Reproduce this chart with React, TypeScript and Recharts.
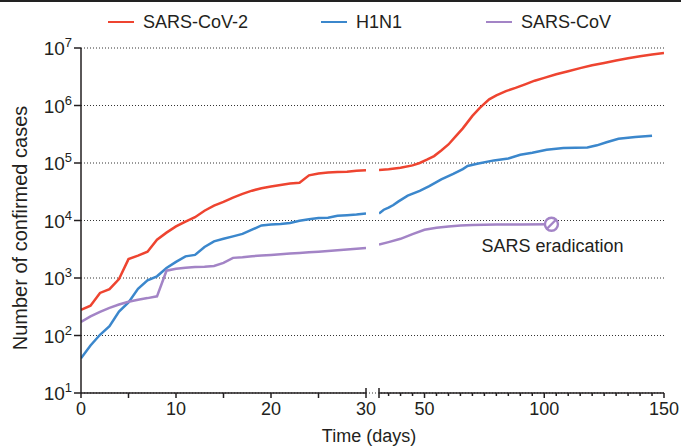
import React from "react";
import { LineChart, Line, XAxis, YAxis, CartesianGrid, Label } from "recharts";

const RED = "#ee4430";
const BLUE = "#3b87cc";
const PURPLE = "#a384c6";
const INK = "#231f20";

const seriesNames = ["SARS-CoV-2", "H1N1", "SARS-CoV"];
const seriesColors = [RED, BLUE, PURPLE];

// first 30 days, one reading per day
const earlyDays = [0, 1, 2, 3, 4, 5, 6, 7, 8, 9, 10, 11, 12, 13, 14, 15, 16, 17, 18, 19, 20, 21, 22, 23, 24, 25, 26, 27, 28, 29, 30];
const earlySars2 = [280, 330, 550, 640, 960, 2130, 2450, 2870, 4650, 6150, 7900, 9600, 11400, 14800, 18100, 21000, 25000, 29000, 33000, 36500, 39000, 41500, 44000, 45500, 61000, 65800, 68600, 69800, 70500, 73500, 74500];
const earlyH1n1 = [40, 67, 103, 145, 260, 375, 650, 910, 1070, 1490, 1910, 2380, 2520, 3470, 4340, 4800, 5300, 5860, 6930, 8220, 8540, 8700, 9060, 9930, 10500, 11000, 11200, 12100, 12400, 12700, 13200];
const earlySars = [172, 215, 258, 302, 346, 387, 420, 447, 480, 1340, 1450, 1510, 1550, 1570, 1620, 1830, 2240, 2300, 2400, 2450, 2520, 2600, 2660, 2720, 2800, 2870, 2950, 3030, 3120, 3220, 3330];

// after the axis break, each series has its own reading days
const lateSars2Days = [31, 35, 40, 45, 48, 51, 54, 57, 60, 63, 66, 70, 73, 77, 80, 84, 88, 92, 96, 100, 105, 110, 115, 120, 125, 130, 135, 140, 145, 150];
const lateSars2 = [75500, 78000, 82500, 91000, 100000, 114000, 132000, 165000, 210000, 290000, 400000, 660000, 900000, 1280000, 1500000, 1780000, 2020000, 2330000, 2700000, 3020000, 3500000, 3950000, 4470000, 5000000, 5500000, 6050000, 6650000, 7200000, 7700000, 8200000];
const lateH1n1Days = [31, 33, 35, 37, 39, 43, 48, 52, 57, 62, 66, 68, 72, 79, 85, 90, 95, 101, 108, 113, 118, 122, 126, 131, 138, 145];
const lateH1n1 = [13200, 15400, 16800, 18600, 21300, 27000, 32700, 39500, 52000, 64500, 78500, 89000, 97000, 111000, 120000, 139000, 151000, 170000, 182000, 184000, 186000, 203000, 230000, 263000, 282000, 298000];
const lateSarsDays = [31, 35, 40, 45, 50, 55, 60, 65, 70, 80, 90, 103];
const lateSars = [3800, 4200, 4800, 5800, 6900, 7500, 7900, 8150, 8350, 8500, 8550, 8600];

const yTicks = [10, 100, 1000, 10000, 100000, 1000000, 10000000];
const earlyTicks = [0, 5, 10, 15, 20, 25, 30];
const earlyLabels = [0, 10, 20, 30];
const lateTicks = [31, 35, 40, 45, 50, 55, 60, 65, 70, 75, 80, 85, 90, 95, 100, 105, 110, 115, 120, 125, 130, 135, 140, 145, 150];
const lateLabels = [50, 100, 150];

const earlyRows = earlyDays.map((day, i) => ({
  day,
  sars2: earlySars2[i],
  h1n1: earlyH1n1[i],
  sars: earlySars[i],
}));
const toRows = (days: number[], vals: number[]) => days.map((day, i) => ({ day, v: vals[i] }));

const PowerTick = (props: any) => {
  const { x, y, payload } = props;
  const exp = Math.round(Math.log10(payload.value));
  return (
    <text x={x} y={y + 7} textAnchor="end" fontSize={19} fill={INK}>
      10<tspan dy={-8} fontSize={13}>{exp}</tspan>
    </text>
  );
};

const EarlyTick = (props: any) => {
  const { x, y, payload } = props;
  const v = payload.value;
  return (
    <g>
      <line x1={x} x2={x} y1={v === 30 ? y - 5 : y} y2={y + 5} stroke={INK} strokeWidth={1.5} />
      {earlyLabels.includes(v) && (
        <text x={x} y={y + 22} textAnchor="middle" fontSize={18} fill={INK}>{v}</text>
      )}
    </g>
  );
};

const LateTick = (props: any) => {
  const { x, y, payload } = props;
  const v = payload.value;
  const major = lateLabels.includes(v);
  return (
    <g>
      <line x1={x} x2={x} y1={v === 31 ? y - 5 : y} y2={y + (major || v === 31 ? 5 : 3)} stroke={INK} strokeWidth={1.5} />
      {major && (
        <text x={x} y={y + 22} textAnchor="middle" fontSize={18} fill={INK}>{v}</text>
      )}
    </g>
  );
};

const YTitle = () => (
  <text transform="translate(27,228) rotate(-90)" textAnchor="middle" fontSize={20} fill={INK}>
    Number of confirmed cases
  </text>
);

const lastSars = lateSarsDays.length - 1;
const EradicationDot = (props: any) => {
  const { cx, cy, index } = props;
  if (index !== lastSars) return <g key={`p${index}`} />;
  return (
    <g key="erad">
      <circle cx={cx} cy={cy} r={6.5} fill="#fff" stroke={PURPLE} strokeWidth={2.4} />
      <line x1={cx - 4.5} y1={cy + 4.5} x2={cx + 4.5} y2={cy - 4.5} stroke={PURPLE} strokeWidth={2.4} />
      <text x={cx + 1} y={cy + 28} textAnchor="middle" fontSize={18} fill={INK}>SARS eradication</text>
    </g>
  );
};

const axisStyle = { stroke: INK, strokeWidth: 1.5 };
const lineProps = { type: "linear" as const, strokeWidth: 2.5, dot: false, isAnimationActive: false };

export default function App() {
  const legendLeft = [108, 321, 486];
  return (
    <div
      style={{
        position: "absolute",
        left: 0,
        top: 0,
        width: 681,
        height: 448,
        background: "#fff",
        overflow: "hidden",
        fontFamily: "'Liberation Sans', Arial, Helvetica, sans-serif",
        color: INK,
      }}
    >
      <div style={{ position: "absolute", left: 0, top: 0, width: 681, height: 2, background: "#222" }} />

      {seriesNames.map((name, i) => (
        <div
          key={name}
          style={{ position: "absolute", left: legendLeft[i], top: 11, height: 22, display: "flex", alignItems: "center" }}
        >
          <span style={{ display: "inline-block", width: 26, height: 2.5, background: seriesColors[i], marginRight: 9 }} />
          <span style={{ fontSize: 18, lineHeight: "22px" }}>{name}</span>
        </div>
      ))}

      <div style={{ position: "absolute", left: 0, top: 0 }}>
        <LineChart width={681} height={448} data={earlyRows} margin={{ top: 48, right: 315, bottom: 0, left: 0 }}>
          <CartesianGrid vertical={false} stroke="#333" strokeDasharray="1 2" x={81} width={584} />
          <XAxis
            type="number"
            dataKey="day"
            domain={[0, 30]}
            ticks={earlyTicks}
            interval={0}
            height={55}
            axisLine={axisStyle}
            tickLine={false}
            tickSize={0}
            tickMargin={0}
            tick={EarlyTick}
            allowDataOverflow
          />
          <YAxis
            scale="log"
            domain={[10, 10000000]}
            ticks={yTicks}
            interval={0}
            width={81}
            axisLine={axisStyle}
            tickLine={axisStyle}
            tickSize={7}
            tickMargin={2}
            tick={PowerTick}
            allowDataOverflow
          >
            <Label content={YTitle} />
          </YAxis>
          <Line dataKey="sars2" stroke={RED} {...lineProps} />
          <Line dataKey="h1n1" stroke={BLUE} {...lineProps} />
          <Line dataKey="sars" stroke={PURPLE} {...lineProps} />
        </LineChart>
      </div>

      <div style={{ position: "absolute", left: 0, top: 0 }}>
        <LineChart width={681} height={448} margin={{ top: 48, right: 17, bottom: 0, left: 379 }}>
          <XAxis
            type="number"
            dataKey="day"
            domain={[31, 150]}
            ticks={lateTicks}
            interval={0}
            height={55}
            axisLine={axisStyle}
            tickLine={false}
            tickSize={0}
            tickMargin={0}
            tick={LateTick}
            allowDataOverflow
          />
          <YAxis hide scale="log" domain={[10, 10000000]} allowDataOverflow />
          <Line data={toRows(lateSars2Days, lateSars2)} dataKey="v" stroke={RED} {...lineProps} />
          <Line data={toRows(lateH1n1Days, lateH1n1)} dataKey="v" stroke={BLUE} {...lineProps} />
          <Line data={toRows(lateSarsDays, lateSars)} dataKey="v" stroke={PURPLE} {...lineProps} dot={EradicationDot} />
        </LineChart>
      </div>

      <div style={{ position: "absolute", left: 269, top: 427, width: 200, textAlign: "center", fontSize: 18, lineHeight: "18px" }}>
        Time (days)
      </div>
    </div>
  );
}
